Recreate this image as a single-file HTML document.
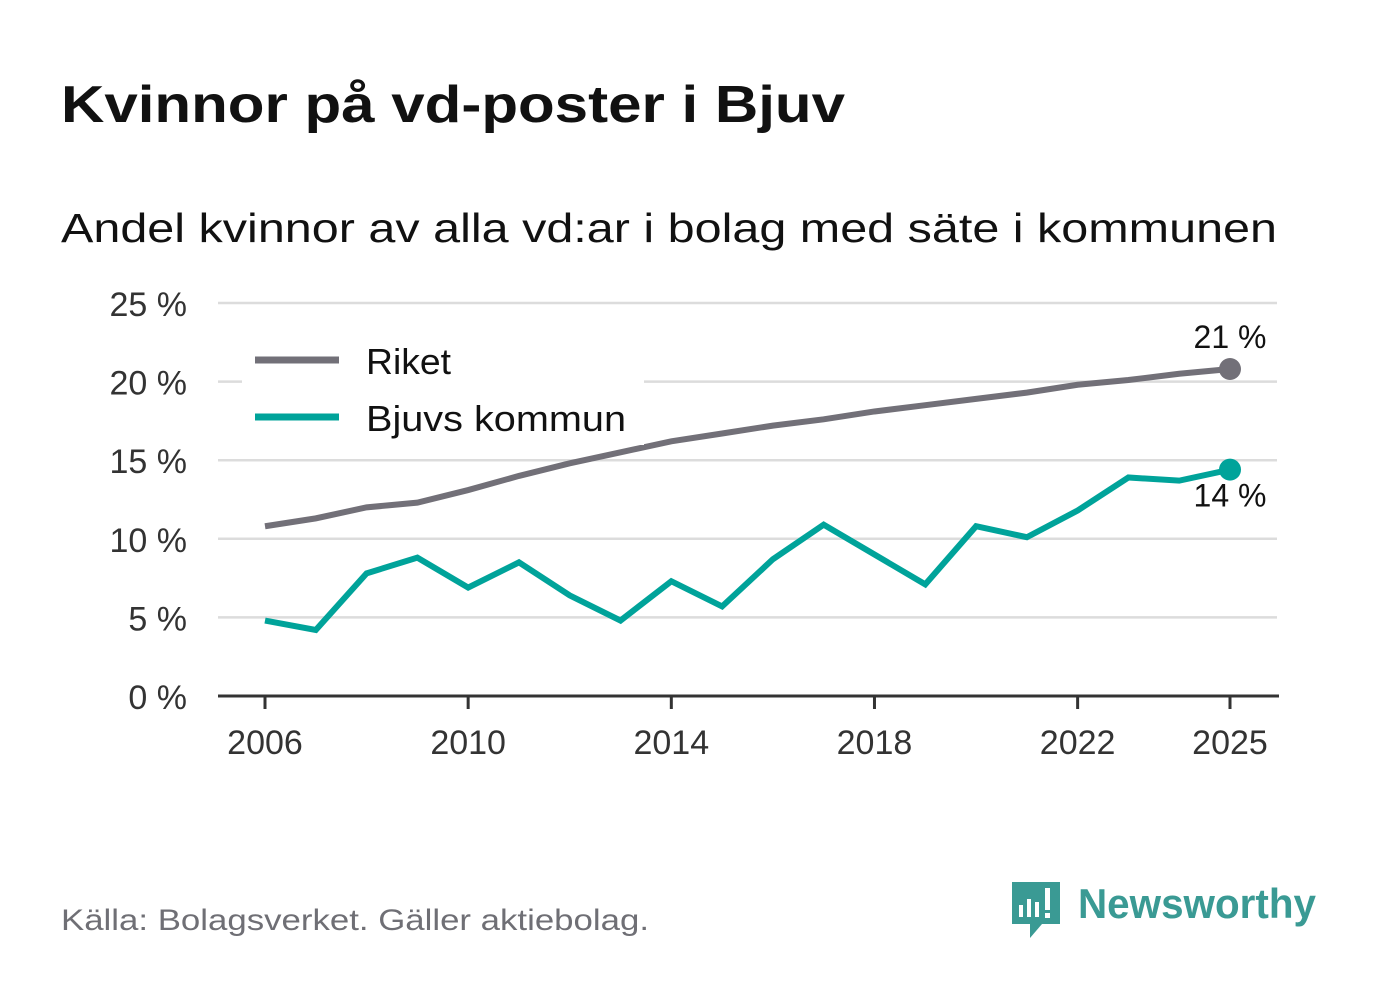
<!DOCTYPE html>
<html><head><meta charset="utf-8"><style>
body{margin:0;background:#fff;font-family:"Liberation Sans",sans-serif;}
#wrap{position:relative;width:1382px;height:999px;overflow:hidden;}
</style></head><body>
<div id="wrap">
<svg id="svg" width="1382" height="999" xmlns="http://www.w3.org/2000/svg">
<text x="61" y="122" font-size="52" font-weight="bold" fill="#111" textLength="784" lengthAdjust="spacingAndGlyphs">Kvinnor på vd-poster i Bjuv</text>
<text x="61" y="242" font-size="41" fill="#111" textLength="1216" lengthAdjust="spacingAndGlyphs">Andel kvinnor av alla vd:ar i bolag med säte i kommunen</text>
<g id="grid"></g>
<g id="lines"></g>
<g>
<rect x="242" y="335" width="402" height="110" fill="#fff"/>
<line x1="255" y1="360" x2="339" y2="360" stroke="#727078" stroke-width="7"/>
<text x="366" y="374" font-size="36" fill="#111" textLength="85" lengthAdjust="spacingAndGlyphs">Riket</text>
<line x1="255" y1="417" x2="339" y2="417" stroke="#00a39a" stroke-width="7"/>
<text x="366" y="431" font-size="36" fill="#111" textLength="260" lengthAdjust="spacingAndGlyphs">Bjuvs kommun</text>
</g>
<text x="61" y="930" font-size="30" fill="#6f6f75" textLength="588" lengthAdjust="spacingAndGlyphs">Källa: Bolagsverket. Gäller aktiebolag.</text>
<g>
<path d="M1012 882h48v42h-18l-12 14v-14h-18z" fill="#3a9a94"/>
<rect x="1019" y="905" width="4" height="12" fill="#fff"/><rect x="1027" y="899" width="4" height="18" fill="#fff"/><rect x="1035" y="902" width="4" height="15" fill="#fff"/><rect x="1045" y="888" width="5" height="22" fill="#fff"/><rect x="1045" y="913" width="5" height="5" fill="#fff"/>
<text x="1078" y="918" font-size="42" font-weight="bold" fill="#3a9a94" textLength="238" lengthAdjust="spacingAndGlyphs">Newsworthy</text>
</g>
</svg>
</div>
<script>
const years=[2006,2007,2008,2009,2010,2011,2012,2013,2014,2015,2016,2017,2018,2019,2020,2021,2022,2023,2024,2025];
const riket=[10.8,11.3,12.0,12.3,13.1,14.0,14.8,15.5,16.2,16.7,17.2,17.6,18.1,18.5,18.9,19.3,19.8,20.1,20.5,20.8];
const bjuv=[4.8,4.2,7.8,8.8,6.9,8.5,6.4,4.8,7.3,5.7,8.7,10.9,9.0,7.1,10.8,10.1,11.8,13.9,13.7,14.4];
const yTicks=[0,5,10,15,20,25];
const xTicks=[2006,2010,2014,2018,2022,2025];
const NS="http://www.w3.org/2000/svg";
const x=v=>265+(v-2006)*(1230-265)/19;
const y=v=>696-v*(696-303)/25;
function mk(t,a,p){const e=document.createElementNS(NS,t);for(const k in a)e.setAttribute(k,a[k]);p.appendChild(e);return e;}
const grid=document.getElementById('grid'),lines=document.getElementById('lines');
yTicks.forEach(v=>{
 if(v>0){const l=mk('line',{x1:218,x2:1277,y1:y(v),y2:y(v),stroke:'#dcdcdc','stroke-width':2.5},grid);
 
 }
 const t=mk('text',{x:187,y:y(v)+13,'font-size':34,fill:'#333','text-anchor':'end'},grid);
 
 
 t.textContent=v+' %';
});
const ax=mk('line',{x1:218,x2:1279,y1:696,y2:696,stroke:'#333','stroke-width':3},grid);


xTicks.forEach(v=>{
 const tk=mk('line',{x1:x(v),x2:x(v),y1:696,y2:709,stroke:'#333','stroke-width':3},grid);
 
 
 const t=mk('text',{x:x(v),y:754,'font-size':34,fill:'#333','text-anchor':'middle'},grid);
 
 
 t.textContent=v;
});
function series(vals,color,name,labY){
 const d=vals.map((v,i)=>(i?'L':'M')+x(years[i])+' '+y(v)).join(' ');
 const p=mk('path',{d:d,fill:'none',stroke:color,'stroke-width':6,'stroke-linejoin':'miter'},lines);
 
 
 const n=vals.length-1;
 const c=mk('circle',{cx:x(years[n]),cy:y(vals[n]),r:11,fill:color},lines);
 
 
 const t=mk('text',{x:x(years[n]),y:y(vals[n])+labY,'font-size':32,fill:'#111','text-anchor':'middle'},lines);
 
 
 t.textContent=Math.round(vals[n])+' %';
}
series(riket,'#727078','riket',-21);
series(bjuv,'#00a39a','bjuv',37);
</script>
</body></html>
